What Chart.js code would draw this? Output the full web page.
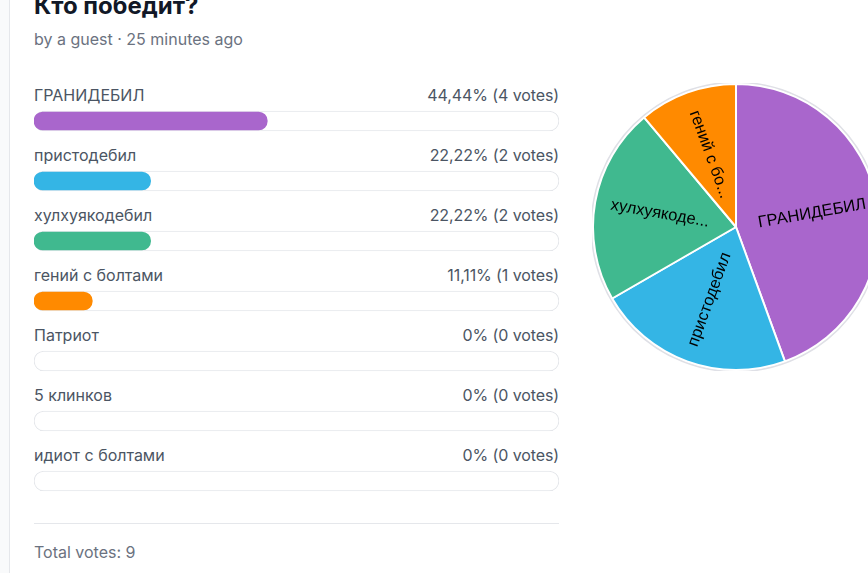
<!DOCTYPE html>
<html>
<head>
<meta charset="utf-8">
<script src="https://cdn.jsdelivr.net/npm/chart.js@4.4.1/dist/chart.umd.min.js"></script>
<style>
  html, body { margin:0; padding:0; width:868px; height:573px; overflow:hidden; background:#fff; font-family: Inter, "Noto Sans", sans-serif; }
  #strip { position:absolute; left:0; top:0; width:9px; height:573px; background:#f9fafb; border-right:1px solid #e5e7eb; }
  .t { position:absolute; white-space:nowrap; }
  #title { left:34px; top:-9px; font-size:24px; line-height:30px; font-weight:700; color:#111827; }
  #sub { left:34px; top:29px; font-size:16px; line-height:20px; color:#6b7280; }
  .lab { left:34px; font-size:16px; line-height:20px; color:#4b5563; }
  .pct { right:309px; font-size:16px; line-height:20px; color:#4b5563; text-align:right; letter-spacing:-0.1px; }
  #divider { position:absolute; left:34px; top:523px; width:525px; height:1px; background:#e5e7eb; }
  #total { left:34px; top:542px; font-size:16px; line-height:20px; color:#6b7280; }
  #barWrap { position:absolute; left:34px; top:91px; width:525px; height:420px; }
  #pieWrap { position:absolute; left:592px; top:83px; width:288px; height:288px; }
</style>
</head>
<body>
<div id="strip"></div>
<div id="title" class="t">Кто победит?</div>
<div id="sub" class="t">by a guest · 25 minutes ago</div>
<div id="rows"></div>
<div id="divider"></div>
<div id="total" class="t">Total votes: 9</div>
<div id="barWrap"><canvas id="bars" width="525" height="420"></canvas></div>
<div id="pieWrap"><canvas id="pie" width="288" height="288"></canvas></div>
<script>
const options = ["ГРАНИДЕБИЛ", "пристодебил", "хулхуякодебил", "гений с болтами", "Патриот", "5 клинков", "идиот с болтами"];
const votes = [4, 2, 2, 1, 0, 0, 0];
const percents = [44.44, 22.22, 22.22, 11.11, 0, 0, 0];
const percentLabels = ["44,44%", "22,22%", "22,22%", "11,11%", "0%", "0%", "0%"];
const totalVotes = 9;
const colors = ["#a966cc", "#34b5e5", "#40b98f", "#ff8a00", "#ff4444", "#ffbb33", "#99cc00"];
const track = [100, 100, 100, 100, 100, 100, 100];

// text rows
const rows = document.getElementById('rows');
options.forEach((o, i) => {
  const l = document.createElement('div');
  l.className = 't lab'; l.style.top = (85 + 60 * i) + 'px'; l.textContent = o;
  const p = document.createElement('div');
  p.className = 't pct'; p.style.top = (85 + 60 * i) + 'px';
  p.textContent = percentLabels[i] + ' (' + votes[i] + ' votes)';
  rows.appendChild(l); rows.appendChild(p);
});
document.getElementById('total').textContent = 'Total votes: ' + totalVotes;

new Chart(document.getElementById('bars'), {
  type: 'bar',
  data: {
    labels: options,
    datasets: [
      { data: percents, backgroundColor: (c) => (c.raw > 0 ? colors[c.dataIndex] : 'rgba(0,0,0,0)'), barThickness: 18, borderRadius: 9, borderSkipped: false, grouped: false, order: 0 },
      { data: track, backgroundColor: '#ffffff', borderColor: '#e5e7eb', borderWidth: 1, barThickness: 20, borderRadius: 10, borderSkipped: false, grouped: false, order: 1 }
    ]
  },
  options: {
    indexAxis: 'y', responsive: false, animation: false,
    layout: { padding: 0 },
    plugins: { legend: { display: false }, tooltip: { enabled: false } },
    scales: {
      x: { display: false, min: 0, max: 100 },
      y: { display: false }
    }
  }
});

const ringPlugin = {
  id: 'ring',
  beforeDatasetsDraw(chart) {
    const arc = chart.getDatasetMeta(0).data[0];
    if (!arc) return;
    const ctx = chart.ctx;
    ctx.save();
    ctx.beginPath();
    ctx.arc(arc.x, arc.y, arc.outerRadius + 1.5, 0, Math.PI * 2);
    ctx.strokeStyle = '#dfe0e6';
    ctx.lineWidth = 2;
    ctx.stroke();
    ctx.restore();
  }
};
const pieLabels = {
  id: 'pieLabels',
  afterDatasetsDraw(chart) {
    const ctx = chart.ctx;
    const meta = chart.getDatasetMeta(0);
    ctx.save();
    ctx.font = '16.5px "Liberation Sans", Arial, sans-serif';
    ctx.fillStyle = '#000';
    ctx.textAlign = 'center';
    ctx.textBaseline = 'middle';
    meta.data.forEach((a, i) => {
      if (!votes[i]) return;
      const mid = (a.startAngle + a.endAngle) / 2;
      const r = a.outerRadius * 0.54;
      const x = a.x + Math.cos(mid) * r, y = a.y + Math.sin(mid) * r;
      let rot = mid;
      if (Math.cos(mid) < 0) rot += Math.PI;
      let txt = options[i];
      if (txt.length > 12) txt = txt.slice(0, 10) + '...';
      ctx.save();
      ctx.translate(x, y);
      ctx.rotate(rot);
      ctx.fillText(txt, 0, 0);
      ctx.restore();
    });
    ctx.restore();
  }
};

new Chart(document.getElementById('pie'), {
  type: 'pie',
  data: {
    labels: options,
    datasets: [{ data: votes, backgroundColor: colors, borderColor: '#ffffff', borderWidth: 2, hoverOffset: 0, offset: 0 }]
  },
  options: {
    responsive: false, animation: false,
    layout: { padding: 0 },
    plugins: { legend: { display: false }, tooltip: { enabled: false } }
  },
  plugins: [ringPlugin, pieLabels]
});
</script>
</body>
</html>
